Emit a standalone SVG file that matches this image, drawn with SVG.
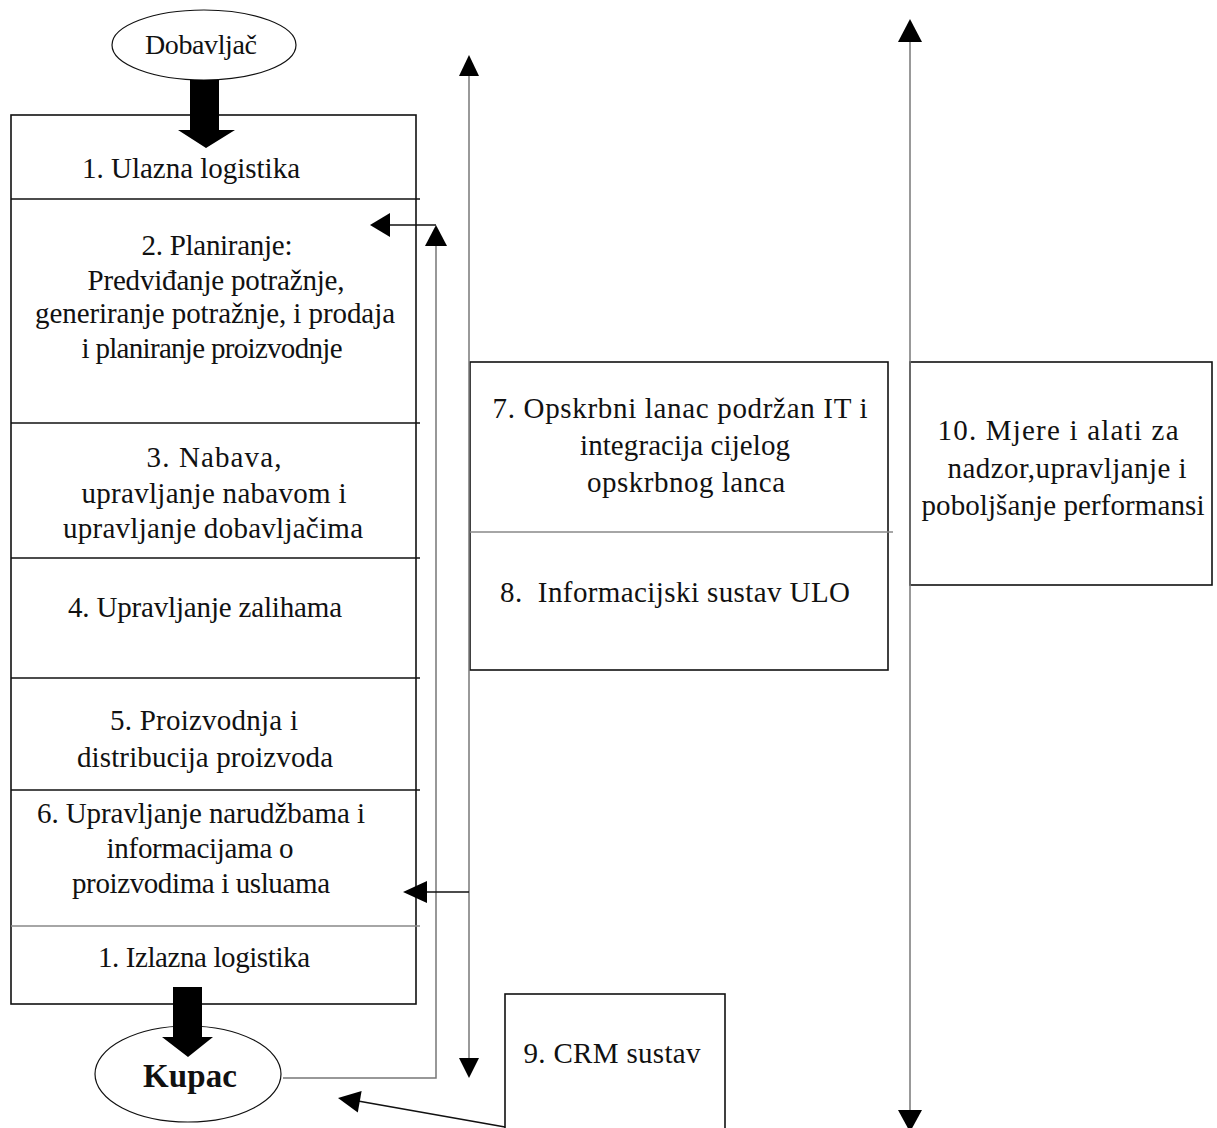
<svg xmlns="http://www.w3.org/2000/svg" width="1217" height="1128" viewBox="0 0 1217 1128">
<style>
text{font-family:"Liberation Serif","Times New Roman",serif;font-size:29px;fill:#111;text-anchor:middle}
text.dob{font-size:28px}
text.kup{font-size:33px;font-weight:bold}
.box{fill:#fff;stroke:#111;stroke-width:1.6}
.div{stroke:#111;stroke-width:1.6}
.gdiv{stroke:#888;stroke-width:1.4}
.gl{stroke:#777;stroke-width:1.5;fill:none}
.bl{stroke:#111;stroke-width:1.5;fill:none}
.head{fill:#000}
</style>
<rect width="1217" height="1128" fill="#fff"/>
<g id="dobavljac">
<ellipse cx="204" cy="45" rx="92" ry="35" fill="#fff" stroke="#111" stroke-width="1.2"/>
<text class="dob" x="201" y="54" textLength="112" lengthAdjust="spacing">Dobavljač</text>
</g>
<g id="lanac">
<rect class="box" x="11" y="115" width="405" height="889"/>
<line class="div" x1="11" y1="199" x2="420" y2="199"/>
<line class="div" x1="11" y1="423" x2="420" y2="423"/>
<line class="div" x1="11" y1="558" x2="420" y2="558"/>
<line class="div" x1="11" y1="678" x2="420" y2="678"/>
<line class="div" x1="11" y1="790" x2="420" y2="790"/>
<line class="gdiv" x1="11" y1="926" x2="420" y2="926"/>
<text x="191" y="178" textLength="218" lengthAdjust="spacing">1. Ulazna logistika</text>
<text x="217" y="255" textLength="151" lengthAdjust="spacing">2. Planiranje:</text>
<text x="216" y="290" textLength="257" lengthAdjust="spacing">Predviđanje potražnje,</text>
<text x="215" y="323" textLength="360" lengthAdjust="spacing">generiranje potražnje, i prodaja</text>
<text x="212" y="358" textLength="261" lengthAdjust="spacing">i planiranje proizvodnje</text>
<text x="214" y="467" textLength="135" lengthAdjust="spacing">3. Nabava,</text>
<text x="214" y="503" textLength="265" lengthAdjust="spacing">upravljanje nabavom i</text>
<text x="213" y="538" textLength="300" lengthAdjust="spacing">upravljanje dobavljačima</text>
<text x="205" y="617" textLength="274" lengthAdjust="spacing">4. Upravljanje zalihama</text>
<text x="204" y="730" textLength="188" lengthAdjust="spacing">5. Proizvodnja i</text>
<text x="205" y="767" textLength="256" lengthAdjust="spacing">distribucija proizvoda</text>
<text x="201" y="823" textLength="328" lengthAdjust="spacing">6. Upravljanje narudžbama i</text>
<text x="200" y="858" textLength="187" lengthAdjust="spacing">informacijama o</text>
<text x="201" y="893" textLength="258" lengthAdjust="spacing">proizvodima i usluama</text>
<text x="204" y="967" textLength="212" lengthAdjust="spacing">1. Izlazna logistika</text>
</g>
<g id="kupac">
<ellipse cx="188" cy="1074" rx="93" ry="48" fill="#fff" stroke="#111" stroke-width="1.2"/>
<text class="kup" x="190" y="1087" textLength="94" lengthAdjust="spacing">Kupac</text>
</g>
<g id="it">
<rect class="box" x="470" y="362" width="418" height="308"/>
<line class="gdiv" x1="470" y1="532" x2="893" y2="532"/>
<text x="680" y="418" textLength="375" lengthAdjust="spacing">7. Opskrbni lanac podržan IT i</text>
<text x="685" y="455" textLength="210" lengthAdjust="spacing">integracija cijelog</text>
<text x="686" y="492" textLength="198" lengthAdjust="spacing">opskrbnog lanca</text>
<text x="675" y="602" textLength="350" lengthAdjust="spacing" xml:space="preserve">8.  Informacijski sustav ULO</text>
</g>
<g id="mjere">
<rect class="box" x="910" y="362" width="302" height="223"/>
<text x="1058" y="440" textLength="241" lengthAdjust="spacing">10. Mjere i alati za</text>
<text x="1067" y="478" textLength="239" lengthAdjust="spacing">nadzor,upravljanje i</text>
<text x="1063" y="515" textLength="283" lengthAdjust="spacing">poboljšanje performansi</text>
</g>
<g id="crm">
<rect class="box" x="505" y="994" width="220" height="150"/>
<text x="612" y="1063" textLength="177" lengthAdjust="spacing">9. CRM sustav</text>
</g>
<g id="connectors">
<polygon class="head" points="190,80 219,80 219,130 235,130 206,148 178,130 190,130"/>
<polygon class="head" points="173,987 202,987 202,1037 213,1037 188,1057 162,1037 173,1037"/>
<polyline class="gl" points="283,1078 436,1078 436,244"/>
<polygon class="head" points="436,225 447,246 425,246"/>
<line class="bl" x1="436" y1="225" x2="388" y2="225"/>
<polygon class="head" points="370,225 390,213 390,237"/>
<line class="gl" x1="469" y1="74" x2="469" y2="1060"/>
<polygon class="head" points="469,55 479,76 459,76"/>
<polygon class="head" points="469,1078 479,1058 459,1058"/>
<line class="bl" x1="469" y1="892" x2="425" y2="892"/>
<polygon class="head" points="403,892 427,881 427,903"/>
<line class="gl" x1="910" y1="40" x2="910" y2="1112"/>
<polygon class="head" points="910,19 922,42 898,42"/>
<polygon class="head" points="910,1132 922,1110 898,1110"/>
<line class="bl" x1="505" y1="1127" x2="358" y2="1101"/>
<polygon class="head" points="338,1098 361.6,1091 357.8,1112.6"/>
</g>
</svg>
